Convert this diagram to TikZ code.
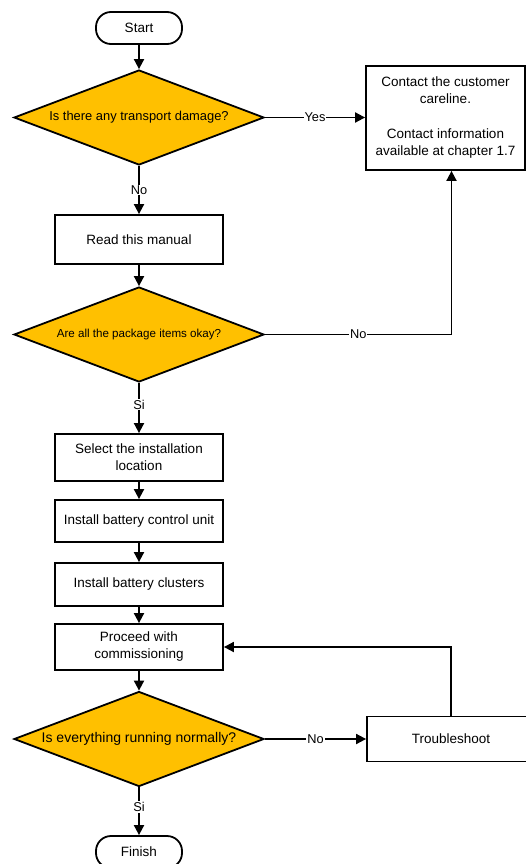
\documentclass[tikz,border=0pt]{standalone}
\usepackage{fontspec}
\setmainfont{Liberation Sans}
\usetikzlibrary{shapes.geometric,arrows.meta}
\definecolor{askfill}{HTML}{FFC000}

\begin{document}
\begin{tikzpicture}[x=1pt, y=-1pt, line width=1.8pt,
    flow/.style={-{Triangle[length=10pt,width=10pt]}},
    box/.style={draw, rectangle, minimum width=168pt, align=center, inner sep=0pt, font=\fontsize{13.5}{17}\selectfont},
    pill/.style={draw, rectangle, rounded corners=15pt, minimum width=86pt, minimum height=32pt, inner sep=0pt, font=\fontsize{13.5}{17}\selectfont},
    ask/.style={draw, diamond, aspect=2.63, fill=askfill, minimum width=250pt, minimum height=95pt, inner sep=0pt},
    lbl/.style={fill=white, inner sep=1pt, font=\fontsize{12.8}{15}\selectfont}]
        \useasboundingbox (0,0) rectangle (526,864);

        \node[pill] (start) at (139,28) {Start};
        \node[ask, font=\fontsize{12.9}{15}\selectfont] (damage) at (139,117.5) {Is there any transport damage?};
        \node[box, minimum width=159pt, minimum height=104pt] (contact) at (445.5,118)
            {Contact the customer\\careline.\\[18pt]Contact information\\available at chapter 1.7};
        \node[box, minimum height=49pt] (manual) at (139,239.5) {Read this manual};
        \node[ask, font=\fontsize{11.6}{14}\selectfont] (items) at (139,334.5) {Are all the package items okay?};
        \node[box, minimum height=47pt] (location) at (139,457.5) {Select the installation\\location};
        \node[box, minimum height=42pt] (control) at (139,521) {Install battery control unit};
        \node[box, minimum height=43pt] (clusters) at (139,584.5) {Install battery clusters};
        \node[box, minimum height=46pt] (commission) at (139,647) {Proceed with\\commissioning};
        \node[ask, font=\fontsize{14}{17}\selectfont] (running) at (139,739) {Is everything running normally?};
        \node[box, minimum height=45pt] (trouble) at (451,739) {Troubleshoot};
        \node[pill] (finish) at (139,852) {Finish};

        \draw[flow] (start) -- (damage);
        \draw[flow] (damage.east) -- node[lbl] {Yes} (damage.east -| contact.west);
        \draw[flow] (damage) -- node[lbl] {No} (manual);
        \draw[flow] (manual) -- (items);
        \draw[flow] (items.east) -| node[lbl, pos=0.25] {No} ([xshift=6pt]contact.south);
        \draw[flow] (items) -- node[lbl, pos=0.43] {Si} (location);
        \draw[flow] (location) -- (control);
        \draw[flow] (control) -- (clusters);
        \draw[flow] (clusters) -- (commission);
        \draw[flow] (commission) -- (running);
        \draw[flow] (running.east) -- node[lbl] {No} (running.east -| trouble.west);
        \draw[flow] (trouble.north) |- (commission.east);
        \draw[flow] (running) -- node[lbl, pos=0.41] {Si} (finish);
    \end{tikzpicture}
\end{document}
